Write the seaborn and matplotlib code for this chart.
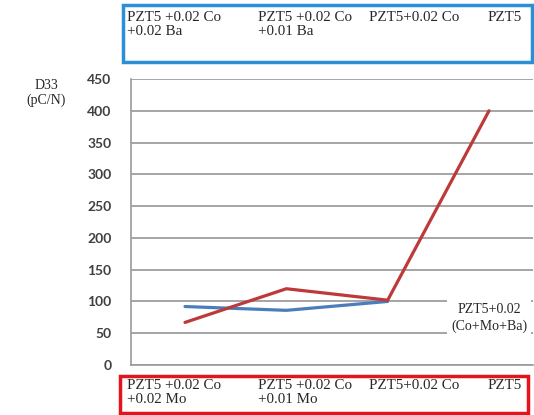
import numpy as np
import pandas as pd
import matplotlib
matplotlib.use("Agg")
import matplotlib.pyplot as plt
from matplotlib.patches import Rectangle
import seaborn as sns

# data
positions = [0, 1, 2, 3]
ba_series = [92, 86, 100, np.nan]     # Co + Ba (blue)
mo_series = [67, 120, 102, 400]       # Co + Mo (red)
top_labels = ["PZT5 +0.02 Co\n+0.02 Ba", "PZT5 +0.02 Co\n+0.01 Ba", "PZT5+0.02 Co", "PZT5"]
bottom_labels = ["PZT5 +0.02 Co\n+0.02 Mo", "PZT5 +0.02 Co\n+0.01 Mo", "PZT5+0.02 Co", "PZT5"]
yticks = [0, 50, 100, 150, 200, 250, 300, 350, 400, 450]

df = pd.DataFrame({
    "x": positions * 2,
    "d33": ba_series + mo_series,
    "series": ["Ba"] * 4 + ["Mo"] * 4,
})

sns.set_style("white")
serif = ["Liberation Serif", "DejaVu Serif"]

W, H = 534, 415
fig = plt.figure(figsize=(W / 100, H / 100), dpi=100)


def fx(px):
    return px / W


def fy(py):
    return 1 - py / H


ax = fig.add_axes([fx(131), fy(365), fx(533) - fx(131), fy(79) - fy(365)])
sns.lineplot(data=df, x="x", y="d33", hue="series", palette={"Ba": "#4a7ebb", "Mo": "#be3a3a"},
             linewidth=2.3, ax=ax, legend=False, sort=False)

ax.set_xlim(-0.533, 3.434)
ax.set_ylim(0, 450)
ax.set_yticks(yticks)
ax.set_yticklabels([str(v) for v in yticks], fontfamily="Lato", fontweight="bold",
                   fontsize=10, color="#404040")
ax.tick_params(axis="y", length=0, pad=14)
ax.set_xticks([0.5, 1.5, 2.5])
ax.set_xticklabels([])
ax.tick_params(axis="x", length=4, color="#999999", direction="out", width=1)
ax.grid(axis="y", color="#a5a5a5", linewidth=1.4)
ax.set_axisbelow(True)
for s in ["top", "right"]:
    ax.spines[s].set_visible(False)
for s in ["left", "bottom"]:
    ax.spines[s].set_color("#999999")
    ax.spines[s].set_linewidth(1.2)
ax.set_xlabel("")
ax.set_ylabel("")

ax.text(3.0, 74, "PZT5+0.02\n(Co+Mo+Ba)", ha="center", va="center", fontsize=10,
        family=serif, linespacing=1.25,
        bbox=dict(boxstyle="square,pad=0.3", facecolor="white", edgecolor="none"))

# y label
fig.text(fx(46), fy(93), "D33\n(pC/N)", ha="center", va="center", fontsize=10,
         family=serif, linespacing=1.2)

# top (blue) and bottom (red) label boxes
fig.add_artist(Rectangle((fx(123), fy(62)), fx(532) - fx(123), fy(5) - fy(62),
                         transform=fig.transFigure, facecolor="white",
                         edgecolor="#2a8fd6", linewidth=2.5))
fig.add_artist(Rectangle((fx(120), fy(413)), fx(528) - fx(120), fy(376) - fy(413),
                         transform=fig.transFigure, facecolor="white",
                         edgecolor="#e3141c", linewidth=2.5))

cols = [127, 258, 369, 488]
for xp, lab in zip(cols, top_labels):
    fig.text(fx(xp), fy(11), lab, ha="left", va="top", fontsize=10.8,
             family=serif, linespacing=1.1)
for xp, lab in zip(cols, bottom_labels):
    fig.text(fx(xp), fy(379), lab, ha="left", va="top", fontsize=10.8,
             family=serif, linespacing=1.1)

fig.savefig("out.png", dpi=100)
